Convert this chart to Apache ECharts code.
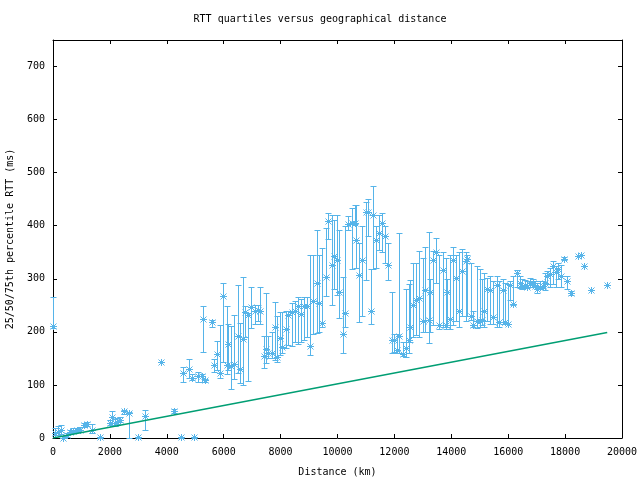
<!DOCTYPE html>
<html><head><meta charset="utf-8">
<script src="https://cdn.jsdelivr.net/npm/echarts@6/dist/echarts.min.js"></script>
<style>html,body{margin:0;padding:0;background:#fff}#c{width:640px;height:480px}</style>
</head><body><div id="c"></div>
<script>
// Distance (km) and 25/50/75th percentile RTT (ms)
const dist = [0,70,187,270,363,480,597,714,831,949,1090,1183,1359,1652,2000,2063,2180,2238,2355,2496,2683,3000,3234,3785,4265,4486,4580,4791,4875,4956,5108,5230,5284,5350,5577,5670,5776,5870,5987,6105,6163,6257,6374,6491,6573,6690,6749,6866,6960,7110,7190,7270,7417,7475,7569,7686,7803,7885,7979,8060,8178,8272,8412,8506,8623,8717,8822,8939,9033,9150,9268,9361,9466,9584,9677,9795,9888,9993,10063,10182,10264,10380,10499,10615,10650,10766,10872,10990,11083,11177,11259,11353,11459,11575,11670,11786,11905,11986,12081,12173,12292,12397,12513,12548,12666,12759,12876,12995,13076,13227,13250,13368,13462,13579,13697,13803,13838,13954,14070,14165,14281,14387,14516,14563,14682,14774,14891,15009,15067,15149,15266,15360,15477,15595,15688,15806,15888,16005,16063,16180,16298,16415,16474,16590,16649,16766,16860,16942,17024,17118,17212,17293,17376,17470,17587,17670,17763,17845,17962,18079,18196,18465,18547,18664,18899,19484];
const q25 = [208,5,6,8,0,2,8,9,12,12,20,22,10,0,24,25,22,26,30,45,0,0,15,143,48,0,106,113,110,0,106,105,163,105,210,125,128,113,144,121,128,92,111,122,103,100,190,108,207,215,220,215,131,141,150,150,147,144,157,160,170,175,174,180,177,180,185,190,157,196,198,200,210,267,375,250,280,270,226,161,210,392,318,404,320,219,230,298,380,215,319,320,355,350,330,298,160,162,160,160,155,153,160,180,190,195,191,200,200,179,200,213,292,205,210,205,210,205,213,220,210,230,220,230,222,210,207,210,212,210,220,215,215,210,210,215,214,215,260,250,285,282,280,282,282,285,285,285,274,280,282,278,290,285,290,285,300,285,335,280,270,343,345,325,279,289];
const q50 = [211,10,12,16,0,6,12,13,15,16,24,26,15,1,28,39,29,31,34,50,48,1,42,143,51,1,123,130,114,1,117,117,224,109,218,138,158,122,268,138,177,135,139,192,130,186,237,231,247,240,242,240,155,168,160,161,210,153,188,171,205,231,238,240,248,234,249,248,174,259,292,254,216,303,408,326,343,335,275,196,235,404,406,405,374,307,335,425,425,240,421,374,386,406,381,326,185,185,165,192,158,169,185,209,251,260,264,221,279,223,276,336,350,213,317,213,275,224,335,301,240,314,333,337,230,213,221,221,223,240,281,278,228,289,219,279,219,215,289,253,311,293,287,289,284,292,293,287,281,284,287,293,306,309,325,312,318,306,337,295,273,343,345,325,279,289];
const q75 = [265,18,22,25,3,10,16,18,19,20,28,30,26,2,33,50,36,37,40,52,49,2,53,143,54,2,134,149,120,2,124,120,249,112,222,149,182,213,292,248,215,211,232,289,216,303,248,235,284,250,250,285,193,273,193,200,256,229,238,238,240,240,255,258,265,262,265,265,344,345,392,345,358,396,424,420,410,420,392,304,399,419,433,440,440,367,399,444,450,319,475,399,421,424,400,367,276,196,196,387,180,281,290,297,330,330,353,340,360,389,300,353,377,345,350,340,300,345,360,345,350,356,350,345,330,240,325,318,300,311,302,305,296,305,296,300,292,290,295,305,317,305,300,298,295,302,300,295,293,295,295,310,315,320,334,324,330,326,342,305,277,343,345,325,279,289];
// reference line (green)
const refDist = [0, 19480];
const refRtt = [0, 199];

const xTicks = {min: 0, max: 20000, interval: 2000};
const yTicks = {min: 0, max: 750, interval: 100};

const BLUE = '#56b4e9', GREEN = '#009e73';
const FONT = 'DejaVu Sans Mono';
const chart = echarts.init(document.getElementById('c'), null, {renderer: 'canvas'});
const boxData = dist.map((d, i) => [d, q25[i], q50[i], q75[i]]);
const px = v => Math.round(v) + 0.5;
const axisCommon = {
  axisLine: {show: true, onZero: false, lineStyle: {color: '#000', width: 1}},
  axisTick: {show: true, inside: true, length: 4, lineStyle: {color: '#000'}},
  splitLine: {show: false}
};
chart.setOption({
  animation: false,
  backgroundColor: '#fff',
  title: {text: 'RTT quartiles versus geographical distance', left: 'center', top: 9,
    textStyle: {fontFamily: FONT, fontSize: 10, fontWeight: 'normal', color: '#000'}},
  grid: {left: 53, right: 18, top: 40, bottom: 42, containLabel: false, outerBoundsMode: 'none'},
  xAxis: [
    Object.assign({type: 'value', position: 'bottom', min: xTicks.min, max: xTicks.max, interval: xTicks.interval,
      name: 'Distance (km)', nameLocation: 'middle', nameGap: 29,
      nameTextStyle: {fontFamily: FONT, fontSize: 10, color: '#000'},
      axisLabel: {fontFamily: FONT, fontSize: 10, color: '#000', margin: 9, formatter: v => String(v)}}, axisCommon),
    Object.assign({type: 'value', position: 'top', min: xTicks.min, max: xTicks.max, interval: xTicks.interval,
      axisLabel: {show: false}}, axisCommon)
  ],
  yAxis: [
    Object.assign({type: 'value', position: 'left', min: yTicks.min, max: yTicks.max, interval: yTicks.interval,
      name: '25/50/75th percentile RTT (ms)', nameLocation: 'middle', nameGap: 38, nameRotate: 90,
      nameTextStyle: {fontFamily: FONT, fontSize: 10, color: '#000'},
      axisLabel: {fontFamily: FONT, fontSize: 10, color: '#000', margin: 8,
        formatter: v => v > 700 ? '' : String(v)}}, axisCommon),
    Object.assign({type: 'value', position: 'right', min: yTicks.min, max: yTicks.max, interval: yTicks.interval,
      axisLabel: {show: false}}, axisCommon)
  ],
  series: [
    {
      type: 'custom', xAxisIndex: 0, yAxisIndex: 0, clip: false,
      data: boxData,
      encode: {x: 0, y: [1, 2, 3]},
      renderItem: function (params, api) {
        const lo = api.coord([api.value(0), api.value(1)]);
        const md = api.coord([api.value(0), api.value(2)]);
        const hi = api.coord([api.value(0), api.value(3)]);
        const x = px(md[0]), yl = px(lo[1]), yh = px(hi[1]), ym = px(md[1]);
        const st = {stroke: BLUE, lineWidth: 1};
        const cw = 3, r = 3;
        const ch = [];
        if (Math.abs(yl - yh) > 0.5) {
          ch.push({type: 'line', shape: {x1: x, y1: yl, x2: x, y2: yh}, style: st});
          ch.push({type: 'line', shape: {x1: x - cw, y1: yl, x2: x + cw, y2: yl}, style: st});
          ch.push({type: 'line', shape: {x1: x - cw, y1: yh, x2: x + cw, y2: yh}, style: st});
        }
        ch.push({type: 'line', shape: {x1: x - r - 0.5, y1: ym, x2: x + r + 0.5, y2: ym}, style: st});
        ch.push({type: 'line', shape: {x1: x, y1: ym - r - 0.5, x2: x, y2: ym + r + 0.5}, style: st});
        ch.push({type: 'line', shape: {x1: x - r, y1: ym - r, x2: x + r, y2: ym + r}, style: st});
        ch.push({type: 'line', shape: {x1: x - r, y1: ym + r, x2: x + r, y2: ym - r}, style: st});
        return {type: 'group', children: ch};
      }
    },
    {
      type: 'line', xAxisIndex: 0, yAxisIndex: 0, symbol: 'none',
      data: refDist.map((d, i) => [d, refRtt[i]]),
      lineStyle: {color: GREEN, width: 1.5}
    }
  ]
});
</script></body></html>
